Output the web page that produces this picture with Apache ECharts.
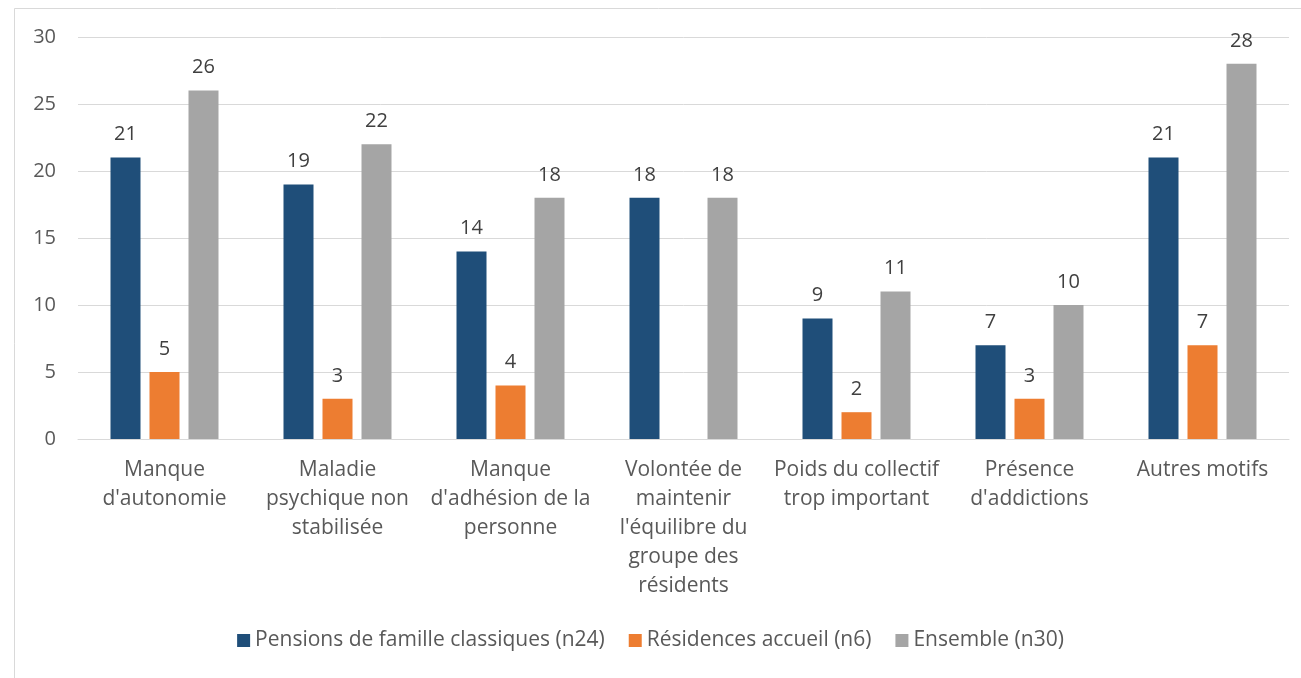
<!DOCTYPE html>
<html>
<head>
<meta charset="utf-8">
<script src="https://cdn.jsdelivr.net/npm/echarts@6/dist/echarts.min.js"></script>
<style>
  html, body { margin: 0; padding: 0; background: #fff; }
  #graph { width: 1301px; height: 678px; }
</style>
</head>
<body>
<div id="graph"></div>
<script>
// catégories (retours à la ligne comme dans l'original)
var categories = [
    'Manque\nd\'autonomie',
    'Maladie\npsychique non\nstabilisée',
    'Manque\nd\'adhésion de la\npersonne',
    'Volontée de\nmaintenir\nl\'équilibre du\ngroupe des\nrésidents',
    'Poids du collectif\ntrop important',
    'Présence\nd\'addictions',
    'Autres motifs'
];
var seriesNames = ['Pensions de famille classiques (n24)', 'Résidences accueil (n6)', 'Ensemble (n30)'];
var pensions = [21, 19, 14, 18, 9, 7, 21];
var residences = [5, 3, 4, null, 2, 3, 7]; // pas de barre pour "Volontée..."
var ensemble = [26, 22, 18, 18, 11, 10, 28];
var yTicks = { min: 0, max: 30, interval: 5 };

var colors = ['#1F4E79', '#ED7D31', '#A5A5A5'];
var fontFamily = '"Open Sans", "Noto Sans", sans-serif';
var textColor = '#595959';

var chart = echarts.init(document.getElementById('graph'));

function makeSeries(name, values, color) {
    return {
        name: name,
        type: 'bar',
        data: values,
        barWidth: 30,
        barGap: '30%',
        itemStyle: { color: color },
        label: {
            show: true,
            position: 'top',
            distance: 13,
            color: '#404040',
            fontSize: 20,
            fontFamily: fontFamily
        }
    };
}

var chartOption = {
    backgroundColor: '#fff',
    animation: false,
    textStyle: { fontFamily: fontFamily },
    graphic: [{
        type: 'rect',
        shape: { x: 14.5, y: 8.5, width: 1400, height: 800 },
        style: { fill: 'none', stroke: '#D9D9D9', lineWidth: 1 },
        silent: true
    }],
    grid: { left: 78, right: 12, top: 37, bottom: 239 },
    legend: {
        bottom: 22,
        left: 'center',
        itemWidth: 13,
        itemHeight: 13,
        itemGap: 24,
        icon: 'rect',
        textStyle: { color: textColor, fontSize: 21, fontFamily: fontFamily },
        data: seriesNames
    },
    xAxis: {
        type: 'category',
        data: categories,
        axisLine: { lineStyle: { color: '#D9D9D9', width: 1 } },
        axisTick: { show: false },
        axisLabel: {
            interval: 0,
            margin: 17,
            color: textColor,
            fontSize: 21,
            lineHeight: 29,
            fontFamily: fontFamily
        }
    },
    yAxis: {
        type: 'value',
        min: yTicks.min,
        max: yTicks.max,
        interval: yTicks.interval,
        axisLine: { show: false },
        axisTick: { show: false },
        splitLine: { lineStyle: { color: '#D9D9D9', width: 1 } },
        axisLabel: {
            margin: 22,
            color: textColor,
            fontSize: 20,
            fontFamily: fontFamily
        }
    },
    series: [
        makeSeries(seriesNames[0], pensions, colors[0]),
        makeSeries(seriesNames[1], residences, colors[1]),
        makeSeries(seriesNames[2], ensemble, colors[2])
    ]
};

chart.setOption(chartOption);
</script>
</body>
</html>
